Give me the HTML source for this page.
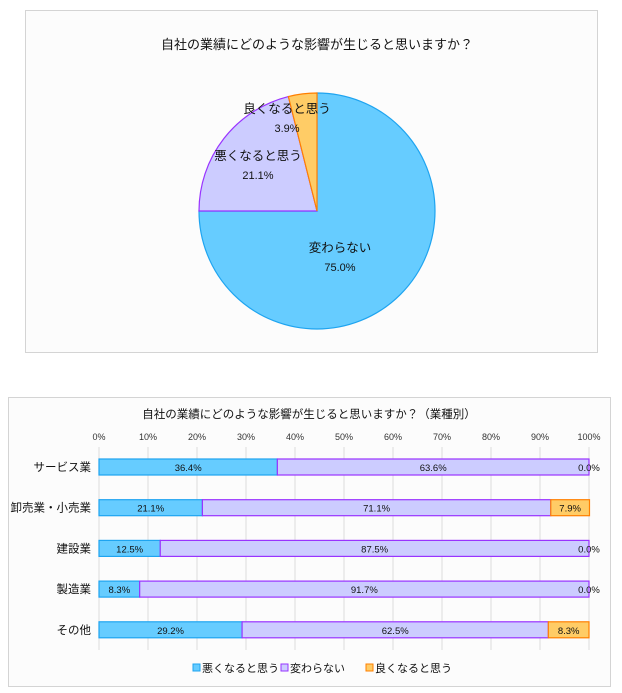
<!DOCTYPE html>
<html><head><meta charset="utf-8"><style>
body{margin:0;width:622px;height:693px;background:#fff;font-family:"Liberation Sans","Noto Sans CJK JP",sans-serif;}
svg{display:block}
</style></head><body>
<svg width="622" height="693">
<rect x="25.5" y="10.5" width="572" height="342" fill="#fcfcfc" stroke="#d4d4d4"/>
<text x="317" y="49" font-size="13" text-anchor="middle" fill="#111">自社の業績にどのような影響が生じると思いますか？</text>
<g id="pie"></g>
<rect x="8.5" y="397.5" width="602" height="289" fill="#fcfcfc" stroke="#d4d4d4"/>
<text x="309" y="418" font-size="11.5" text-anchor="middle" fill="#111">自社の業績にどのような影響が生じると思いますか？（業種別）</text>
<g id="bars"></g>
</svg>
<script>
const pieLabels=["変わらない","悪くなると思う","良くなると思う"];
const pieValues=[75.0,21.1,3.9];
const colors=["#66ccff","#ccccff","#ffcc66"];
const strokes=["#1ea4f0","#9933ff","#ff7f00"];
const categories=["サービス業","卸売業・小売業","建設業","製造業","その他"];
const seriesNames=["悪くなると思う","変わらない","良くなると思う"];
const worse=[36.4,21.1,12.5,8.3,29.2];
const same=[63.6,71.1,87.5,91.7,62.5];
const better=[0.0,7.9,0.0,0.0,8.3];
const ticks=[0,10,20,30,40,50,60,70,80,90,100];
const NS="http://www.w3.org/2000/svg";
function mk(t,a,p){const e=document.createElementNS(NS,t);for(const k in a)e.setAttribute(k,a[k]);p.appendChild(e);return e;}
// pie
const pg=document.getElementById('pie');
const cx=317,cy=211,R=118;
const tot=pieValues.reduce((a,b)=>a+b,0);
let ang=0;
const labPos=[[340,252],[258,160],[287,113]];
pieValues.forEach((v,i)=>{
 const a0=ang,a1=ang+v/tot*2*Math.PI;ang=a1;
 const x0=cx+R*Math.sin(a0),y0=cy-R*Math.cos(a0),x1=cx+R*Math.sin(a1),y1=cy-R*Math.cos(a1);
 const large=(a1-a0)>Math.PI?1:0;
 const p=mk('path',{d:`M${cx},${cy}L${x0},${y0}A${R},${R} 0 ${large} 1 ${x1},${y1}Z`,fill:colors[i],stroke:strokes[i],'stroke-width':1.2},pg);
 
 
});
pieValues.forEach((v,i)=>{
 const mid=pieValues.slice(0,i).reduce((a,b)=>a+b,0)+v/2;
 const t=mk('text',{x:labPos[i][0],y:labPos[i][1],'font-size':12.5,'text-anchor':'middle',fill:'#111'},pg);
 t.textContent=pieLabels[i];
 
 
 const t2=mk('text',{x:labPos[i][0],y:labPos[i][1]+19,'font-size':11,'text-anchor':'middle',fill:'#111'},pg);
 t2.textContent=v.toFixed(1)+'%';
 
 
});
// bars
const bg=document.getElementById('bars');
const X0=99,X1=589,Y0=447,Y1=650;
const xs=v=>X0+(X1-X0)*v/100;
const rowY=i=>467+i*40.7;
ticks.forEach(t=>{
 const l=mk('line',{x1:xs(t),x2:xs(t),y1:Y0,y2:Y1,stroke:'#dddddd'},bg);
 
 
 const tx=mk('text',{x:xs(t),y:440,'font-size':9,'text-anchor':'middle',fill:'#333'},bg);
 tx.textContent=t+'%';
 
 
});
const series=[worse,same,better];
categories.forEach((c,i)=>{
 const y=rowY(i);
 const cl=mk('text',{x:91,y:y+4,'font-size':11.5,'text-anchor':'end',fill:'#111'},bg);
 cl.textContent=c;
 
 
 let acc=0;
 series.forEach((s,k)=>{
  const v=s[i];const xa=xs(acc),xb=xs(acc+v);acc+=v;
  if(v>0){
   const r=mk('rect',{x:xa,y:y-8,width:xb-xa,height:16,fill:colors[k],stroke:strokes[k],'stroke-width':1.2},bg);
   
   
  }
  const t=mk('text',{x:v>0?(xa+xb)/2:xb,y:y+4,'font-size':9.5,'text-anchor':'middle',fill:'#111'},bg);
  t.textContent=v.toFixed(1)+'%';
  
  
 });
});
const lx=[193,281,366];
seriesNames.forEach((n,k)=>{
 const r=mk('rect',{x:lx[k],y:664,width:7,height:7,fill:colors[k],stroke:strokes[k]},bg);
 
 
 const t=mk('text',{x:lx[k]+9,y:672,'font-size':11,fill:'#111'},bg);
 t.textContent=n;
 
 
});
</script>
</body></html>
